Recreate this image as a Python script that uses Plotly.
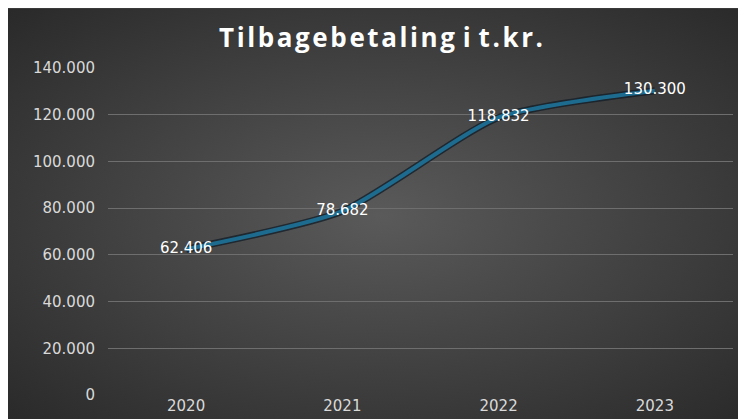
import plotly.graph_objects as go
import base64

years = ["2020", "2021", "2022", "2023"]
values = [62406, 78682, 118832, 130300]
labels = ["62.406", "78.682", "118.832", "130.300"]
y_ticks = [0, 20000, 40000, 60000, 80000, 100000, 120000, 140000]
y_tick_text = ["0", "20.000", "40.000", "60.000", "80.000", "100.000", "120.000", "140.000"]

# radial gradient background as an svg image
svg = ('<svg xmlns="http://www.w3.org/2000/svg" width="746" height="419">'
       '<defs><radialGradient id="g" cx="50%" cy="50%" r="70%">'
       '<stop offset="0%" stop-color="#5a5a5a"/><stop offset="100%" stop-color="#2a2a2a"/>'
       '</radialGradient></defs><rect width="746" height="419" fill="url(#g)"/></svg>')
src = "data:image/svg+xml;base64," + base64.b64encode(svg.encode()).decode()

L, R, T, B = 100, 21, 60, 27
pw, ph = 746 - L - R, 419 - T - B

fig = go.Figure()
# dark shadow under the line
fig.add_trace(go.Scatter(x=years, y=values, mode="lines",
                         line=dict(color="rgba(20,30,40,0.8)", width=7, shape="spline", smoothing=0.6),
                         hoverinfo="skip"))
fig.add_trace(go.Scatter(x=years, y=values, mode="lines+text", text=labels,
                         textposition="middle center",
                         textfont=dict(color="white", size=15, family="DejaVu Sans"),
                         line=dict(color="#1d6c8f", width=4, shape="spline", smoothing=0.6)))

fig.update_layout(
    width=746, height=419, showlegend=False,
    paper_bgcolor="#3a3a3a", plot_bgcolor="rgba(0,0,0,0)",
    margin=dict(l=L, r=R, t=T, b=B),
    images=[dict(source=src, xref="paper", yref="paper", x=-L / pw, y=1 + T / ph,
                 sizex=746 / pw, sizey=419 / ph, xanchor="left", yanchor="top",
                 sizing="stretch", layer="below")],
    title=dict(text="<b>T i l b a g e b e t a l i n g   i   t . k r .</b>".replace(" ", "\u200a"),
               x=0.5, xanchor="center", y=0.95,
               font=dict(color="white", size=26, family="Open Sans")),
    xaxis=dict(showgrid=False, showline=False, range=[-0.5, 3.5],
               tickfont=dict(color="#d9d9d9", size=15, family="DejaVu Sans")),
    yaxis=dict(range=[0, 140000], tickvals=y_ticks, ticktext=y_tick_text,
               gridcolor="#6e6e6e", zeroline=False, ticklabelstandoff=12,
               tickfont=dict(color="#d9d9d9", size=15, family="DejaVu Sans")),
)
fig.write_html("out.html")
